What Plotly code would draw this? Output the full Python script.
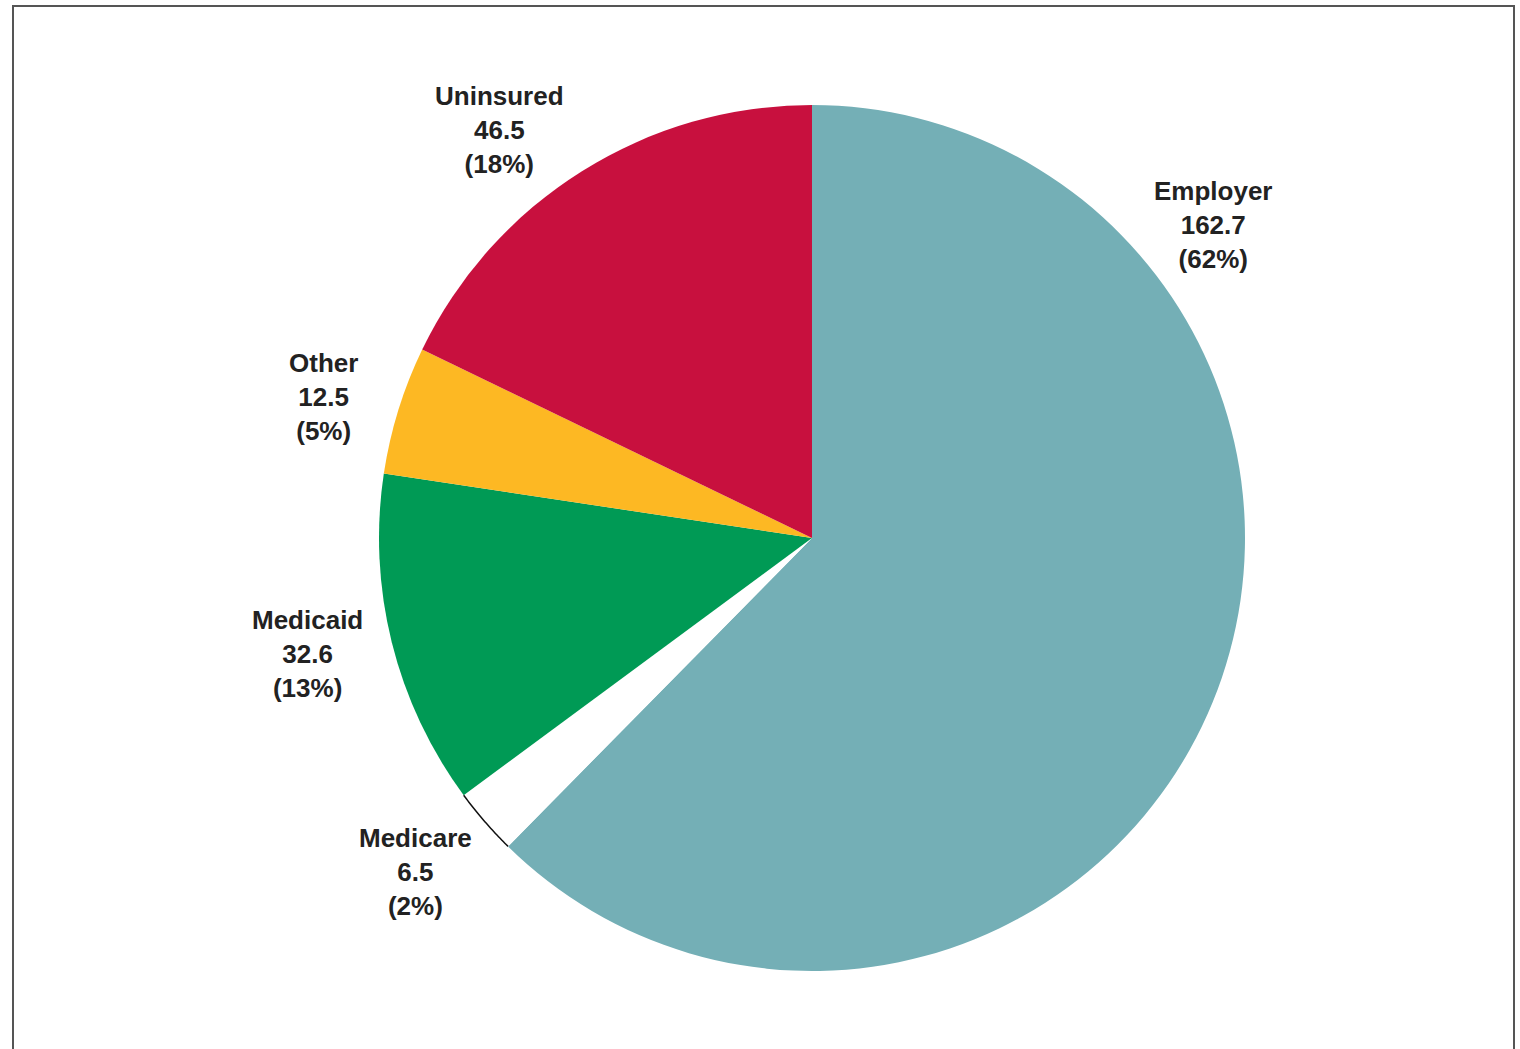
import math
import plotly.graph_objects as go

# Health insurance coverage, millions of people
categories = ["Employer", "Medicare", "Medicaid", "Other", "Uninsured"]
values = [162.7, 6.5, 32.6, 12.5, 46.5]
percent_labels = ["62%", "2%", "13%", "5%", "18%"]
colors = ["#74AFB6", "#FFFFFF", "#009A55", "#FDB823", "#C8103E"]

W, H = 1520, 1049
CX, CY, R = 812, 538, 433  # pie centre and radius in pixels

# label anchor points (pixel centre of the 3-line block)
label_pos = {
    "Employer": (1213, 225),
    "Medicare": (415, 872),
    "Medicaid": (307, 654),
    "Other": (323, 397),
    "Uninsured": (499, 130),
}

fig = go.Figure()
fig.add_trace(go.Pie(
    labels=categories,
    values=values,
    marker=dict(colors=colors, line=dict(width=0)),
    sort=False,
    direction="clockwise",
    rotation=0,
    textinfo="none",
    hoverinfo="label+value",
    showlegend=False,
    domain=dict(x=[(CX - R) / W, (CX + R) / W], y=[1 - (CY + R) / H, 1 - (CY - R) / H]),
))

# thin outline along the outer arc of the Medicare slice
total = sum(values)
start = sum(values[:1]) / total * 2 * math.pi
end = sum(values[:2]) / total * 2 * math.pi
pts = []
n = 30
for i in range(n + 1):
    a = start + (end - start) * i / n
    px = CX + R * math.sin(a)
    py = CY - R * math.cos(a)
    pts.append((px / W, 1 - py / H))
path = "M " + " L ".join(f"{x:.5f},{y:.5f}" for x, y in pts)
fig.add_shape(type="path", path=path, xref="paper", yref="paper",
              line=dict(color="#111111", width=1.5))

# outer frame
fig.add_shape(type="rect", xref="paper", yref="paper",
              x0=13 / W, x1=1514 / W, y0=-0.02, y1=1 - 6 / H,
              line=dict(color="#555555", width=2), fillcolor="rgba(0,0,0,0)")

for cat, val, pct in zip(categories, values, percent_labels):
    lx, ly = label_pos[cat]
    fig.add_annotation(
        x=lx / W, y=1 - ly / H, xref="paper", yref="paper",
        text=f"<b>{cat}<br>{val}<br>({pct})</b>",
        showarrow=False, xanchor="center", yanchor="middle", align="center",
        font=dict(family="Liberation Sans, Arial, sans-serif", size=26, color="#222222"),
    )

fig.update_layout(
    width=W, height=H,
    margin=dict(l=0, r=0, t=0, b=0),
    paper_bgcolor="white",
    plot_bgcolor="white",
    font=dict(family="Liberation Sans, Arial, sans-serif"),
)

fig.write_html("out.html")
